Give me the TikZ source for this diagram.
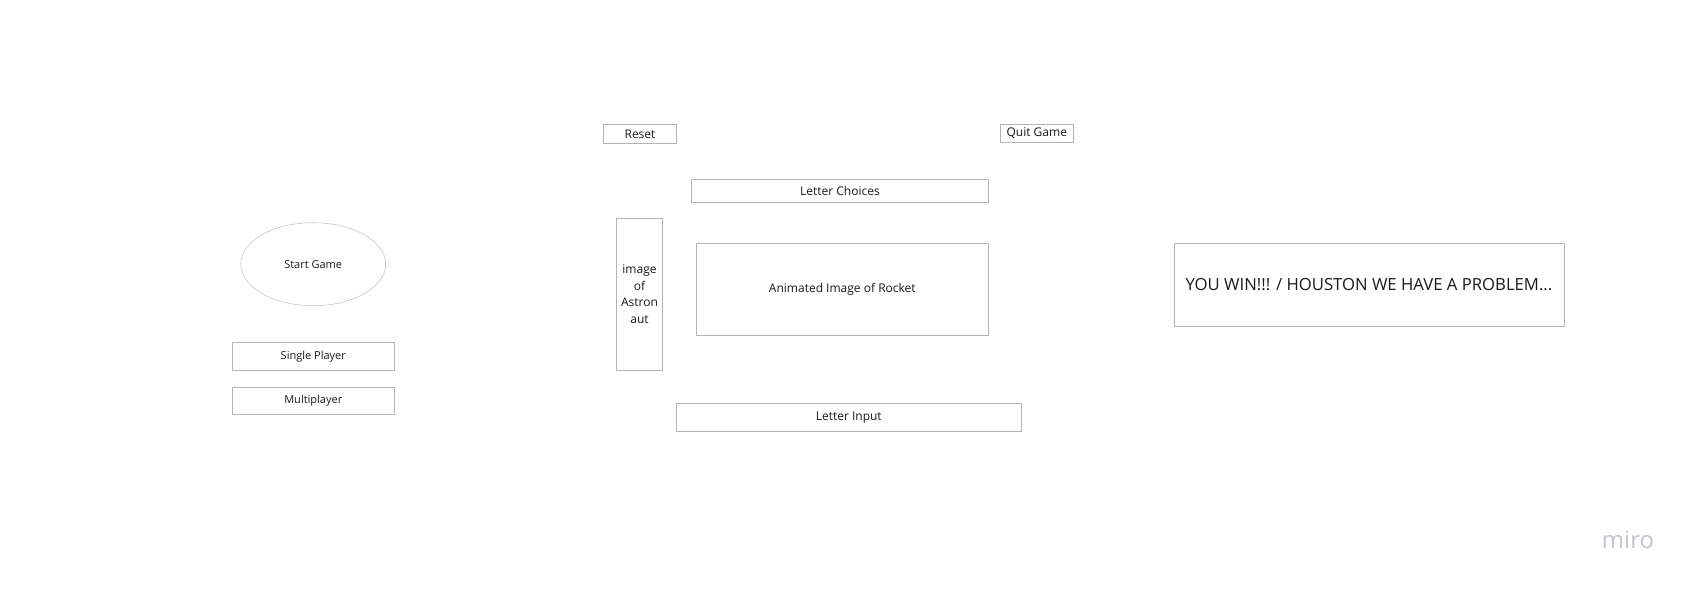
\documentclass[tikz,border=0pt]{standalone}
\usepackage{fontspec}
\setmainfont{Open Sans}
\usetikzlibrary{shapes.geometric}
\definecolor{cline}{HTML}{B4B4B4}
\definecolor{ctext}{HTML}{1A1A1A}
\definecolor{cmark}{HTML}{C4C4CC}
\tikzset{
  every picture/.style={font=\fontsize{12}{16.6}\selectfont, line width=0.9pt},
  box/.style={draw=cline, fill=white, align=center, inner sep=0pt, text=ctext},
  oval/.style={ellipse, draw=cline!75, line width=0.6pt, inner sep=0pt, text=ctext},
  small/.style={font=\fontsize{11}{13}\selectfont},
  big/.style={font=\fontsize{16.7}{19}\selectfont},
}

\begin{document}
\begin{tikzpicture}[x=1pt, y=-1pt]
  \useasboundingbox (0,0) rectangle (1696,589);
  % start screen
  \node[oval, small, minimum width=145, minimum height=83] (start) at (313.2,264.2) {Start Game};
  \node[box, small, minimum width=162, minimum height=28] (single) at (313.3,356.3) {Single Player};
  \node[box, small, minimum width=162, minimum height=27.4] (multi) at (313.3,401) {Multiplayer};
  % game screen
  \node[box, minimum width=73.4, minimum height=19.4] (reset) at (640,134) {Reset};
  \node[box, minimum width=72.5, minimum height=18.4] (quit) at (1036.8,133.6) {Quit Game};
  \node[box, minimum width=296.6, minimum height=23] (choices) at (840,190.8) {Letter Choices};
  \node[box, minimum width=45.6, minimum height=151.7] (astro) at (639.5,294.2) {image\\of\\Astron\\aut};
  \node[box, minimum width=292, minimum height=92.4] (rocket) at (842.3,289.5) {Animated Image of Rocket};
  \node[box, minimum width=344.3, minimum height=28] (input) at (848.8,417.3) {Letter Input};
  % end screen
  \node[box, big, minimum width=390, minimum height=83.4] (result) at (1369,285) {YOU WIN!!! / HOUSTON WE HAVE A PROBLEM...};
  \node[text=cmark, font=\fontsize{24}{26}\selectfont] (logo) at (1628,540) {miro};
\end{tikzpicture}
\end{document}
